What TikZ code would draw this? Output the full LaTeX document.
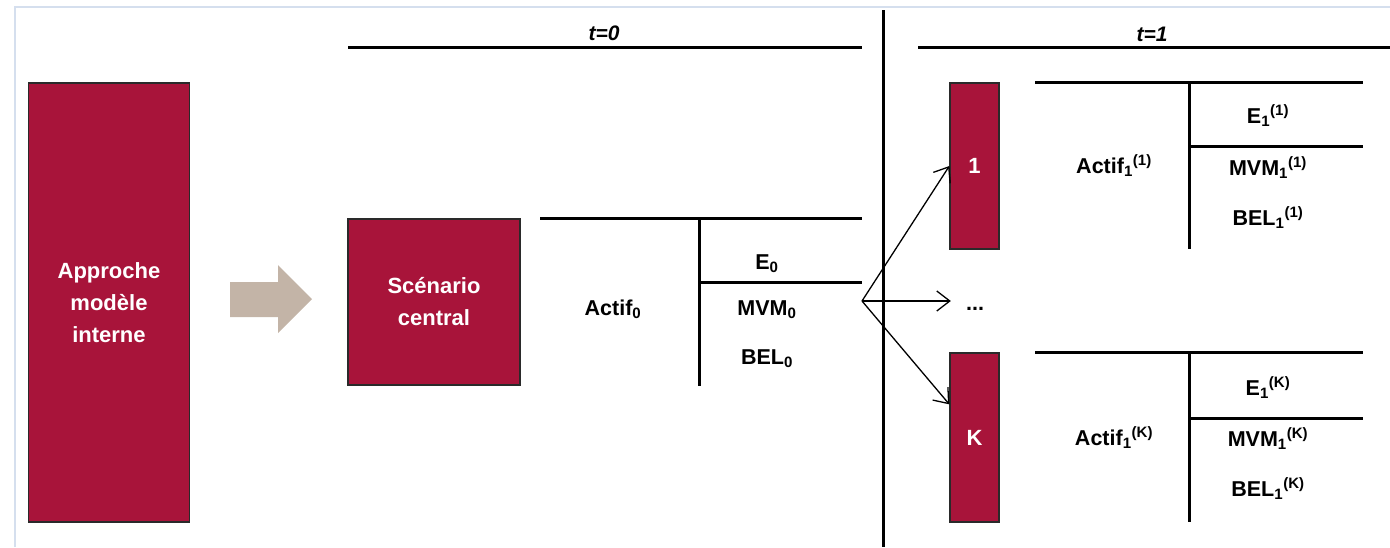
\documentclass[tikz,border=0pt]{standalone}
\usepackage{fontspec}
\setmainfont{Liberation Sans}
\usetikzlibrary{arrows.meta,calc}
\definecolor{boxred}{HTML}{A8143A}
\definecolor{boxline}{HTML}{2A2A2A}
\definecolor{framecol}{HTML}{D5DFEE}
\definecolor{arrgray}{HTML}{C3B4A7}
\tikzset{
  rbox/.style={draw=boxline, line width=1.3pt, fill=boxred, text=white, align=center,
    font=\fontsize{22}{32}\selectfont\bfseries, inner sep=0pt},
  tx/.style={font=\fontsize{21.5}{24}\selectfont\bfseries, anchor=base, inner sep=0pt},
  hdr/.style={font=\fontsize{21}{24}\selectfont\bfseries\itshape, anchor=base, inner sep=0pt},
  rule/.style={line width=3pt},
  link/.style={line width=1.3pt, -{Straight Barb[length=13pt,width=20pt,line width=1.3pt]}}
}
\begin{document}
\begin{tikzpicture}[x=1pt,y=-1pt]
\useasboundingbox (0,0) rectangle (1390,547);
% frame
\draw[framecol, line width=2pt] (15,547) -- (15,6.5) -- (1390,6.5);
% left box
\node[rbox, minimum width=161pt, minimum height=439pt] (app) at (109,302.5) {Approche\\modèle\\interne};
% gray arrow
\fill[arrgray] (230,282) -- (278,282) -- (278,265) -- (312,299) -- (278,333) -- (278,317) -- (230,317) -- cycle;
% scenario central
\node[rbox, minimum width=172pt, minimum height=166pt] (sc) at (434,302) {Scénario\\central};
% time headers
\node[hdr] (t0) at (604,40) {t=0};
\draw[rule] (348,47) -- (862,47);
\node[hdr] (t1) at (1152,41) {t=1};
\draw[rule] (918,47) -- (1390,47);
\draw[rule] (883,10) -- (883,547);
% table t=0
\draw[rule] (540,218) -- (862,218);
\draw[rule] (699,218) -- (699,386);
\draw[rule] (699,282) -- (862,282);
\node[tx] (a0) at (613,315) {Actif\textsubscript{0}};
\node[tx] (e0) at (767,269) {E\textsubscript{0}};
\node[tx] (m0) at (767,315) {MVM\textsubscript{0}};
\node[tx] (b0) at (767,364) {BEL\textsubscript{0}};
% scenario boxes
\node[rbox, minimum width=49pt, minimum height=166pt] (s1) at (974.5,166) {1};
\node[rbox, minimum width=49pt, minimum height=169pt] (sk) at (974.5,437.5) {K};
\node[tx] (dots) at (975,310) {...};
% table 1
\draw[rule] (1035,82) -- (1363,82);
\draw[rule] (1189,82) -- (1189,249);
\draw[rule] (1189,146) -- (1363,146);
\node[tx] (a1) at (1114,173) {Actif\textsubscript{1}\textsuperscript{(1)}};
\node[tx] (e1) at (1268,123) {E\textsubscript{1}\textsuperscript{(1)}};
\node[tx] (m1) at (1268,175) {MVM\textsubscript{1}\textsuperscript{(1)}};
\node[tx] (b1) at (1268,225) {BEL\textsubscript{1}\textsuperscript{(1)}};
% table K
\draw[rule] (1035,352) -- (1363,352);
\draw[rule] (1189,352) -- (1189,522);
\draw[rule] (1189,418) -- (1363,418);
\node[tx] (ak) at (1114,445) {Actif\textsubscript{1}\textsuperscript{(K)}};
\node[tx] (ek) at (1268,395) {E\textsubscript{1}\textsuperscript{(K)}};
\node[tx] (mk) at (1268,446) {MVM\textsubscript{1}\textsuperscript{(K)}};
\node[tx] (bk) at (1268,496) {BEL\textsubscript{1}\textsuperscript{(K)}};
% arrows
\coordinate (split) at (862,301);
\draw[link] (split) -- (s1.west);
\draw[link, shorten >=15pt] (split) -- (split -| dots.west);
\draw[link] (split) -- ([yshift=-52pt]sk.north west);
\end{tikzpicture}
\end{document}
